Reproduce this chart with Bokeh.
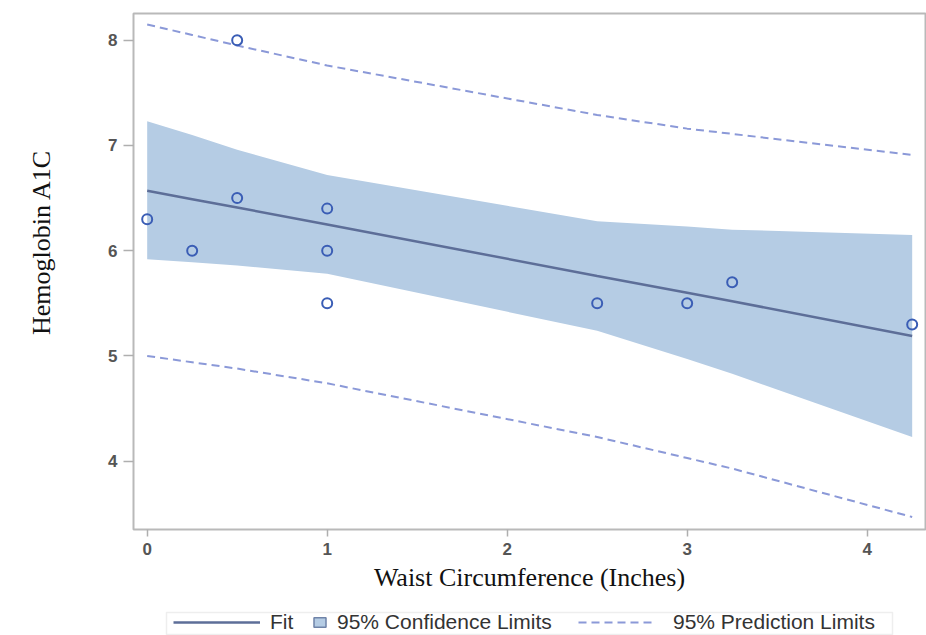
from bokeh.plotting import figure
from bokeh.layouts import column
from bokeh.models import Range1d, Legend, LegendItem, FixedTicker, BoxAnnotation
from bokeh.embed import file_html
from bokeh.resources import INLINE

# observed data
waist = [0, 0.25, 0.5, 0.5, 1, 1, 1, 2.5, 3, 3.25, 4.25]
a1c = [6.3, 6.0, 8.0, 6.5, 6.4, 6.0, 5.5, 5.5, 5.5, 5.7, 5.3]

# fit, confidence and prediction limits (read at the observed x values)
band_x = [0, 0.25, 0.5, 1, 2.5, 3, 3.25, 4.25]
fit_y = [6.57, 6.49, 6.41, 6.25, 5.76, 5.60, 5.52, 5.19]
cl_lower = [5.92, 5.89, 5.86, 5.78, 5.24, 4.97, 4.83, 4.23]
cl_upper = [7.23, 7.10, 6.96, 6.72, 6.28, 6.23, 6.20, 6.15]
pl_lower = [5.00, 4.94, 4.88, 4.74, 4.23, 4.03, 3.93, 3.47]
pl_upper = [8.15, 8.05, 7.95, 7.76, 7.29, 7.16, 7.11, 6.91]

x_ticks = [0, 1, 2, 3, 4]
y_ticks = [4, 5, 6, 7, 8]

x_title = "Waist Circumference (Inches)"
y_title = "Hemoglobin A1C"
labels = ["Fit", "95% Confidence Limits", "95% Prediction Limits"]

BAND = "#B5CCE4"
FIT = "#5D6E98"
PRED = "#8B99D8"
MARK = "#3A5DB5"
SQ_LINE = "#6F83A8"

p = figure(width=926, height=600, output_backend="svg", toolbar_location=None,
           x_range=Range1d(-0.076, 4.324), y_range=Range1d(3.351, 8.254),
           min_border_left=133, min_border_right=1, min_border_top=13, min_border_bottom=71)
p.background_fill_color = "white"
p.border_fill_color = "white"
p.outline_line_color = "#B9B9B9"
p.outline_line_width = 2
p.xgrid.visible = False
p.ygrid.visible = False

p.varea(x=band_x, y1=cl_lower, y2=cl_upper, fill_color=BAND, fill_alpha=1.0)
p.line(band_x, fit_y, line_color=FIT, line_width=2.5)
p.line(band_x, pl_upper, line_color=PRED, line_width=2, line_dash="8 5")
p.line(band_x, pl_lower, line_color=PRED, line_width=2, line_dash="8 5")
p.scatter(waist, a1c, marker="circle", size=10, line_color=MARK, line_width=2,
          fill_color=None)

for ax, ticks, tout in ((p.xaxis, x_ticks, 7), (p.yaxis, y_ticks, 10)):
    ax.ticker = FixedTicker(ticks=ticks)
    ax.axis_line_color = None
    ax.major_tick_line_color = "#AFAFAF"
    ax.major_tick_line_width = 1.5
    ax.major_tick_in = 0
    ax.major_tick_out = tout
    ax.minor_tick_line_color = None
    ax.major_label_text_font = "Liberation Sans"
    ax.major_label_text_font_size = "17px"
    ax.major_label_text_font_style = "bold"
    ax.major_label_text_color = "#555555"
    ax.major_label_standoff = 6
    ax.axis_label_text_font = "Liberation Serif"
    ax.axis_label_text_font_size = "26px"
    ax.axis_label_text_font_style = "normal"
    ax.axis_label_text_color = "#111111"

p.xaxis.axis_label = x_title
p.xaxis.axis_label_standoff = 5
# leading no-break spaces lift the label above the frame centre, as in the original
p.yaxis.axis_label = "\u00a0" * 9 + y_title
p.yaxis.axis_label_standoff = 49

# legend strip below the chart (1 unit = 1 pixel, origin at the frame's left edge)
lg = figure(width=926, height=35, output_backend="svg", toolbar_location=None,
            x_range=Range1d(0, 792), y_range=Range1d(0, 35),
            x_axis_location=None, y_axis_location=None,
            min_border_left=133, min_border_right=1, min_border_top=0, min_border_bottom=0)
lg.xgrid.visible = False
lg.ygrid.visible = False
lg.outline_line_color = None
lg.border_fill_color = "white"
lg.add_layout(BoxAnnotation(left=33, right=759, bottom=1, top=23, fill_alpha=0,
                            line_color="#C8C8C8", line_width=1.5))

fit_proxy = lg.line(band_x, fit_y, line_color=FIT, line_width=2.5, visible=False)
ci_proxy = lg.patch(band_x + band_x[::-1], cl_upper + cl_lower[::-1], fill_color=BAND,
                    line_color=SQ_LINE, line_width=1.5, visible=False)
pl_proxy = lg.line(band_x, pl_upper, line_color=PRED, line_width=2, line_dash="8 5",
                   visible=False)

specs = [(fit_proxy, labels[0], 87, 20, 10, 40),
         (ci_proxy, labels[1], 15, 12, 10, 179),
         (pl_proxy, labels[2], 77, 20, 18, 445)]
for r, lab, gw, gh, standoff, xoff in specs:
    leg = Legend(items=[LegendItem(label=lab, renderers=[r])], location=(xoff, 1),
                 orientation="horizontal")
    leg.label_text_font = "Liberation Sans"
    leg.label_text_font_size = "21px"
    leg.label_text_color = "#333333"
    leg.glyph_width = gw
    leg.glyph_height = gh
    leg.label_height = 20
    leg.label_standoff = standoff
    leg.padding = 0
    leg.margin = 0
    leg.border_line_color = None
    leg.background_fill_alpha = 0
    leg.click_policy = "none"
    lg.add_layout(leg)

open("out.html", "w").write(file_html(column(p, lg, spacing=0), INLINE))
